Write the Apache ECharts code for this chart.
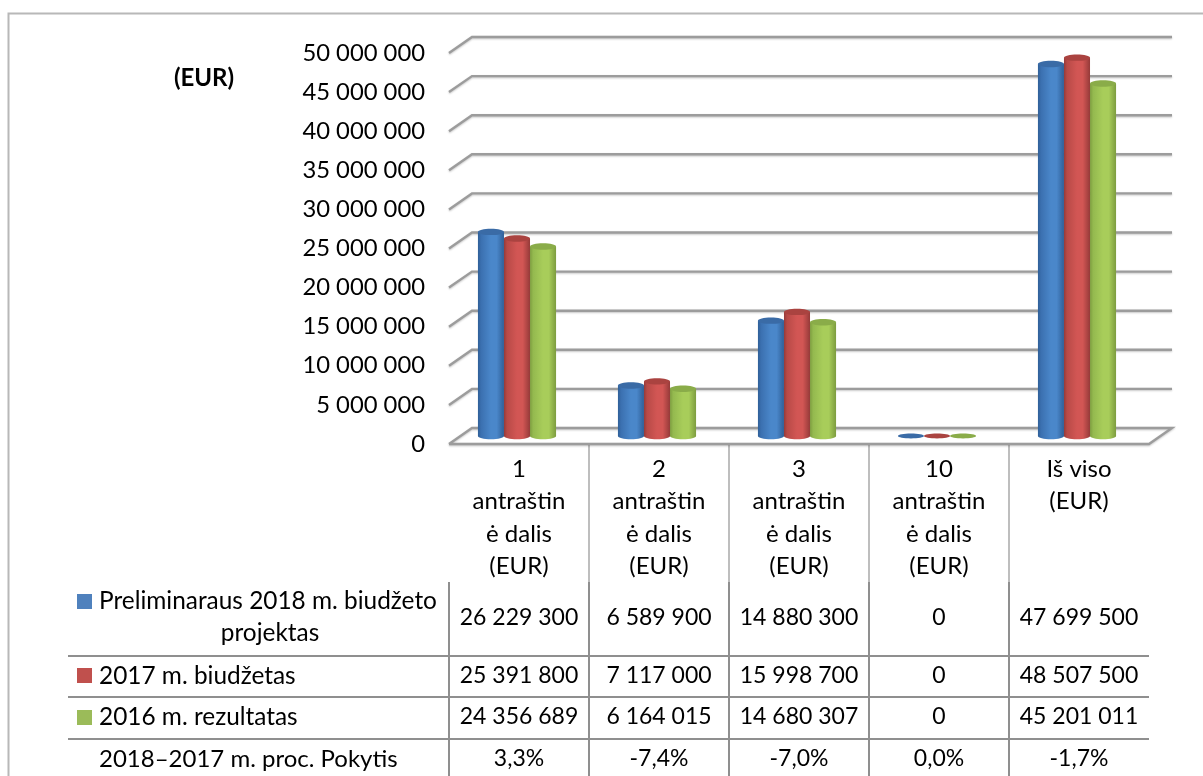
<!DOCTYPE html>
<html><head><meta charset="utf-8">
<style>html,body{margin:0;padding:0;background:#fff}#c{width:1203px;height:776px}</style>
<script src="https://cdn.jsdelivr.net/npm/echarts@6/dist/echarts.min.js"></script>
</head><body><div id="c"></div>
<script>
const categories = ['1\nantraštin\nė dalis\n(EUR)','2\nantraštin\nė dalis\n(EUR)','3\nantraštin\nė dalis\n(EUR)','10\nantraštin\nė dalis\n(EUR)','Iš viso\n(EUR)'];
const seriesNames = ['Preliminaraus 2018 m. biudžeto projektas','2017 m. biudžetas','2016 m. rezultatas'];
const budget2018 = [26229300, 6589900, 14880300, 0, 47699500];
const budget2017 = [25391800, 7117000, 15998700, 0, 48507500];
const result2016 = [24356689, 6164015, 14680307, 0, 45201011];
const changeRow = ['3,3%','-7,4%','-7,0%','0,0%','-1,7%'];
const changeName = '2018–2017 m. proc. Pokytis';
const yTicks = [0,5000000,10000000,15000000,20000000,25000000,30000000,35000000,40000000,45000000,50000000];

const FONT = 'Lato';
const fmt = v => String(v).replace(/\B(?=(\d{3})+(?!\d))/g, ' ');
const skins = [
  {edge:'#2f5f97', left:'#3b70b0', mid:'#4a87ca', top:'#3a6ba6'},
  {edge:'#953a39', left:'#b84a47', mid:'#d25654', top:'#aa4340'},
  {edge:'#7d9c3f', left:'#94b94f', mid:'#a8cd5a', top:'#8aac49'}
];
const GRID = {left:449, right:54, top:53, bottom:332};
const DX = 23, DY = 16, BAR = 0.186, RY = 3.2;

function cylinder(idx){
  return function(params, api){
    const v = api.value(1), p = api.coord([api.value(0), v]), p0 = api.coord([api.value(0), 0]);
    const band = api.size([1,0])[0], w = band*BAR;
    const cx = p[0] - 2 + (idx-1)*w;
    const yBot = p0[1] - DY/2, yTop = p[1] - DY/2 + (v > 0 ? 1 : 0), s = skins[idx];
    const fill = new echarts.graphic.LinearGradient(0,0,1,0,[
      {offset:0,color:s.edge},{offset:.12,color:s.left},{offset:.5,color:s.mid},{offset:.72,color:s.mid},{offset:1,color:s.edge}]);
    const kids = [];
    if (yBot - yTop > 0.5) {
      kids.push({type:'ellipse',shape:{cx,cy:yBot,rx:w/2,ry:RY},style:{fill}});
      kids.push({type:'rect',shape:{x:cx-w/2,y:yTop,width:w,height:yBot-yTop},style:{fill}});
    }
    kids.push({type:'ellipse',shape:{cx,cy:yTop,rx:w/2,ry:v>0?RY:2.4},style:{fill:s.top}});
    return {type:'group',children:kids};
  };
}
function gridWall(params, api){
  const v = api.value(1), a = api.coord([0,v]), b = api.coord([4,v]), band = api.size([1,0])[0];
  const xl = a[0]-band/2, xr = b[0]+band/2, y = a[1];
  const pts = [[xl,y],[xl+DX,y-DY],[xr+DX,y-DY]];
  if (v === 0) pts.push([xr,y],[xl,y]);
  return {type:'polyline',shape:{points:pts},style:{fill:null,stroke:'#9c9c9c',lineWidth:2.4,lineJoin:'miter',shadowColor:'rgba(0,0,0,.22)',shadowBlur:2,shadowOffsetY:1}};
}

const g = [];
const rowY = [618,676,717,759];
const colX = [519,659,799,939,1079];
const line = (x1,y1,x2,y2,stroke='#8f8f8f',w=2) => g.push({type:'line',silent:true,shape:{x1,y1,x2,y2},style:{stroke,lineWidth:w}});
// frame: only the left and top edges fall inside the picture
g.push({type:'rect',silent:true,shape:{x:8.5,y:13.5,width:1210,height:780},style:{fill:null,stroke:'#b8b8b8',lineWidth:2}});
// table rules
[656,697,739].forEach(y=>line(68,y,1149,y));
[589,729,869,1009].forEach(x=>{line(x,445,x,582,'#a8a8a8',1.5);line(x,582,x,776);});
line(449,582,449,776);
const txt = (text,x,y,align='center',size=23,weight='') => g.push({type:'text',silent:true,x,y,style:{text,textAlign:align,textVerticalAlign:'middle',fill:'#000',font:(weight+' '+size+'px '+FONT).trim()}});
// row values
[budget2018,budget2017,result2016].forEach((arr,r)=>arr.forEach((v,i)=>txt(fmt(v),colX[i],rowY[r])));
changeRow.forEach((t,i)=>txt(t,colX[i],rowY[3]));
// row headers and legend keys
const keyY = [601.5,675.5,717.5];
['#4f81bd','#c0504d','#9bbb59'].forEach((c,i)=>g.push({type:'rect',silent:true,shape:{x:77,y:keyY[i]-7.5,width:15,height:15},style:{fill:c}}));
txt('Preliminaraus 2018 m. biudžeto',99,601,'left',24.4);
txt('projektas',270,633,'center',24.4);
txt(seriesNames[1],99,676,'left',24.4);
txt(seriesNames[2],99,717,'left',24.4);
txt(changeName,99,759,'left',24);
txt('(EUR)',204,78,'center',24,'bold');

const chart = echarts.init(document.getElementById('c'),null,{renderer:'canvas'});
chart.setOption({
  animation:false,
  backgroundColor:'#fff',
  grid:GRID,
  xAxis:{type:'category',data:categories,axisLine:{show:false},axisTick:{show:false},
    axisLabel:{interval:0,margin:9,lineHeight:32.4,color:'#000',fontFamily:FONT,fontSize:24,align:'center'}},
  yAxis:{type:'value',min:0,max:50000000,interval:5000000,axisLine:{show:false},axisTick:{show:false},splitLine:{show:false},
    axisLabel:{margin:24,color:'#000',fontFamily:FONT,fontSize:23.8,formatter:fmt}},
  series:[
    {type:'custom',name:'grid',clip:false,silent:true,z:1,renderItem:gridWall,data:yTicks.map(t=>[0,t])},
    {type:'custom',name:seriesNames[0],clip:false,z:2,renderItem:cylinder(0),data:budget2018.map((v,i)=>[i,v])},
    {type:'custom',name:seriesNames[1],clip:false,z:3,renderItem:cylinder(1),data:budget2017.map((v,i)=>[i,v])},
    {type:'custom',name:seriesNames[2],clip:false,z:4,renderItem:cylinder(2),data:result2016.map((v,i)=>[i,v])}
  ],
  graphic:g
});
</script></body></html>
